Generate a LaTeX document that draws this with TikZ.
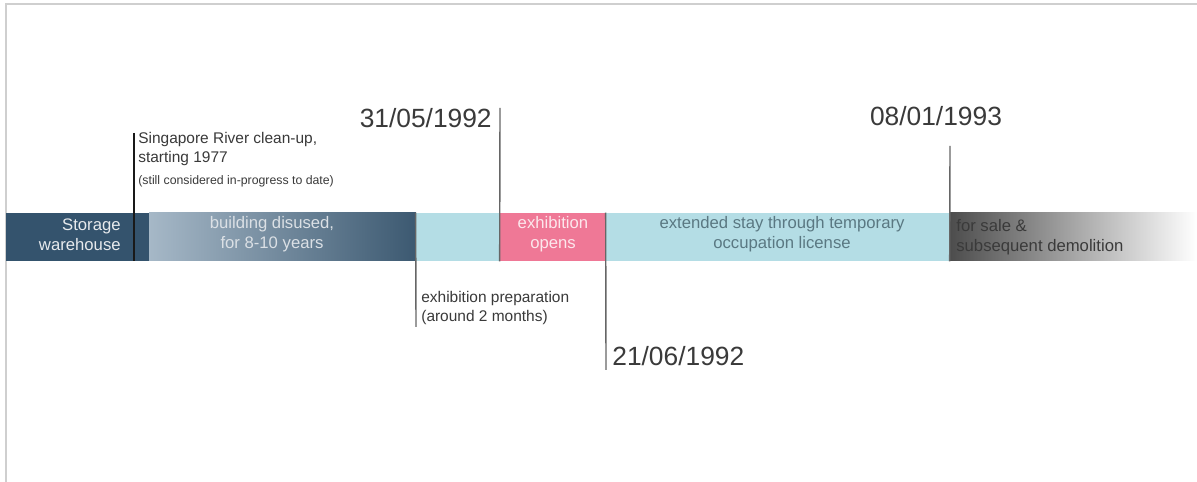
\documentclass[tikz,border=0pt]{standalone}
\usepackage{fontspec}
\setmainfont{Liberation Sans}
\usepackage{tikz}

\definecolor{navy}{HTML}{34536D}
\definecolor{navylight}{HTML}{A6B8C7}
\definecolor{navydark}{HTML}{3C5971}
\definecolor{aqua}{HTML}{B4DDE5}
\definecolor{aquaink}{HTML}{5A7882}
\definecolor{rose}{HTML}{EF7896}
\definecolor{ink}{HTML}{3A3A3A}
\definecolor{frame}{HTML}{CFCFCF}

\tikzset{
    seg/.style={rectangle, inner sep=0pt, minimum height=0.96cm},
    marker/.style={draw=black!60, line width=0.8pt},
    date/.style={text=ink, inner sep=0pt, font=\fontsize{15}{18}\selectfont},
    bartext/.style={inner sep=0pt, align=center, font=\fontsize{9.5}{11.5}\selectfont},
    note/.style={text=ink, inner sep=0pt, align=left, font=\fontsize{8.8}{10.8}\selectfont}
}

\begin{document}
\begin{tikzpicture}[x=0.02cm, y=-0.02cm]
    \useasboundingbox (0,0) rectangle (1197,482);
    \fill[white] (0,0) rectangle (1197,482);
    \draw[frame, line width=0.9pt] (6,482) -- (6,4) -- (1197,4);

    % the bar
    \node[seg, minimum width=2.86cm, fill=navy]                            (ware)    at (77.5,237)  {};
    \node[seg, minimum width=5.34cm, left color=navylight, right color=navydark] (disused) at (282.5,237) {};
    \node[seg, minimum width=1.68cm, fill=aqua]                            (prep)    at (458,237)   {};
    \node[seg, minimum width=2.12cm, fill=rose]                            (opens)   at (553,237)   {};
    \node[seg, minimum width=6.88cm, fill=aqua]                            (stay)    at (778,237)   {};
    \node[seg, minimum width=4.94cm, left color=black!70, right color=white] (sale)   at (1073.5,237) {};

    \node[bartext, align=right, anchor=east, text=white!88!navy] (wareT)    at (121,235) {Storage\\warehouse};
    \node[bartext, text=white!82!navy]                           (disusedT) at (272,234) {building disused,\\for 8-10 years};
    \node[bartext, text=white!82!rose]                           (opensT)   at (553,234) {exhibition\\opens};
    \node[bartext, text=aquaink]                                 (stayT)    at (782,234) {extended stay through temporary\\occupation license};
    \node[bartext, align=left, anchor=west, text=ink]            (saleT)    at (956,237) {for sale \&\\subsequent demolition};

    % markers
    \coordinate (m1) at (134,133);
    \coordinate (m2) at (500,108);
    \coordinate (m3) at (416,327);
    \coordinate (m4) at (606,370);
    \coordinate (m5) at (950,146);
    \draw[marker, draw=black!90, line width=1pt] (m1) -- (m1 |- ware.south);
    \draw[marker] (m2) -- (opens.south west);
    \draw[marker] (prep.north west) -- (m3);
    \draw[marker] (stay.north west) -- (m4);
    \draw[marker] (m5) -- (sale.south west);

    % labels
    \node[note, anchor=north west]  (clean)     at (138,132) {Singapore River clean-up,\\starting 1977};
    \node[note, anchor=west, font=\fontsize{7}{8}\selectfont] (cleanNote) at (138,181) {(still considered in-progress to date)};
    \node[note, anchor=north west]  (prepT)     at (421,291) {exhibition preparation\\(around 2 months)};
    \node[date, anchor=east]        (d1)        at (492,118) {31/05/1992};
    \node[date, anchor=west]        (d2)        at (612,356) {21/06/1992};
    \node[date]                     (d3)        at (936,116) {08/01/1993};
\end{tikzpicture}
\end{document}
